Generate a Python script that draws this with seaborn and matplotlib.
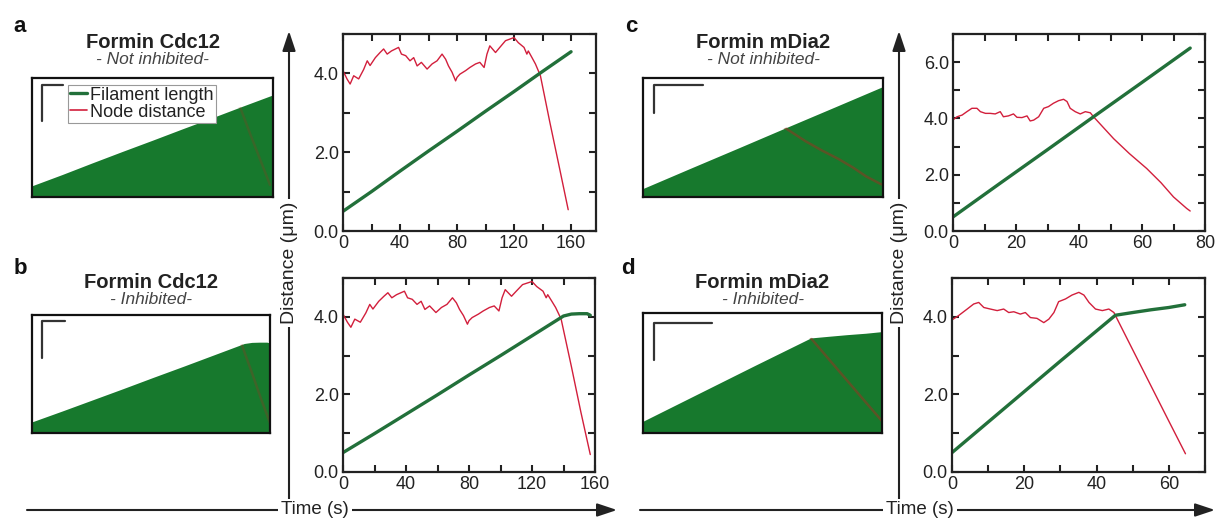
import numpy as np
import matplotlib

matplotlib.use('Agg')
import matplotlib.pyplot as plt
import seaborn as sns
from matplotlib.patches import FancyArrowPatch
from matplotlib.lines import Line2D

# ---- data ----
# a: Cdc12, not inhibited
fil_a_t = [0, 20, 40, 60, 80, 100, 120, 140, 160]
fil_a_d = [0.5, 1.0, 1.52, 2.03, 2.53, 3.04, 3.54, 4.05, 4.55]
node_a_t = [0, 2.8, 5, 7.5, 11, 14.5, 17, 19, 22.7, 26, 28.5, 31, 34, 39, 41, 44, 47, 49.6,
            52, 55, 59, 62.5, 66, 69.5, 72, 74, 76.5, 79, 80, 82, 86, 89, 93, 96, 99, 101,
            103, 107, 110, 114, 117, 120, 123, 127, 129, 130, 132.6, 135, 137, 138.5, 145,
            152, 158]
node_a_d = [4.07, 3.86, 3.73, 3.94, 3.86, 4.10, 4.32, 4.20, 4.40, 4.53, 4.62, 4.49, 4.57,
            4.66, 4.49, 4.45, 4.32, 4.40, 4.19, 4.28, 4.11, 4.24, 4.32, 4.49, 4.36, 4.19,
            4.03, 3.81, 3.90, 3.98, 4.07, 4.15, 4.24, 4.28, 4.15, 4.49, 4.70, 4.53, 4.66,
            4.83, 4.87, 4.91, 4.78, 4.66, 4.49, 4.57, 4.40, 4.24, 4.07, 3.94, 2.78, 1.58, 0.54]

# b: Cdc12, inhibited
fil_b_t = [0, 20, 40, 60, 80, 100, 120, 140, 145, 150, 155, 157]
fil_b_d = [0.5, 0.99, 1.49, 1.99, 2.5, 3.0, 3.51, 4.02, 4.07, 4.08, 4.08, 4.04]
node_b_t = node_a_t[:-3] + [145, 151, 157]
node_b_d = node_a_d[:-3] + [2.72, 1.55, 0.45]

# c: mDia2, not inhibited
fil_c_t = [0, 15, 30, 45, 60, 75.3]
fil_c_d = [0.5, 1.7, 2.89, 4.09, 5.28, 6.5]
node_c_t = [0, 1.3, 2.9, 4.4, 6, 7.6, 8.7, 10.3, 11.8, 13.4, 15, 16, 17.6, 19.2, 20.3, 21.9,
            23.5, 24.5, 25.6, 27.2, 28.8, 30.3, 31.9, 33.5, 35.1, 36.2, 37.2, 38.8, 40.4, 42,
            43.6, 44.6, 51, 56, 61.5, 66, 70, 74.2, 75.3]
node_c_d = [3.95, 4.06, 4.12, 4.24, 4.36, 4.36, 4.24, 4.18, 4.18, 4.16, 4.24, 4.06, 4.09,
            4.16, 4.04, 4.03, 4.09, 3.91, 3.94, 4.06, 4.36, 4.42, 4.54, 4.63, 4.68, 4.60,
            4.36, 4.24, 4.16, 4.24, 4.20, 4.06, 3.28, 2.75, 2.22, 1.72, 1.21, 0.80, 0.71]

# d: mDia2, inhibited
fil_d_t = [0, 15, 30, 45.2, 50, 55, 60, 64.4]
fil_d_d = [0.5, 1.68, 2.86, 4.04, 4.11, 4.18, 4.24, 4.31]
node_d_t = [0, 1.8, 4.2, 6, 7.4, 8.8, 10.6, 12.5, 14.3, 15.7, 17.1, 18.9, 20.3, 21.7, 23.5,
            25.4, 26.8, 28.2, 29.5, 31.4, 33.2, 35.1, 36.5, 37.9, 39.7, 41.6, 43.4, 44.8, 50,
            55, 60, 64.6]
node_d_d = [3.92, 4.03, 4.20, 4.33, 4.37, 4.24, 4.20, 4.16, 4.20, 4.11, 4.13, 4.07, 4.11,
            3.98, 3.96, 3.85, 3.94, 4.11, 4.39, 4.46, 4.56, 4.63, 4.56, 4.37, 4.20, 4.16,
            4.20, 4.11, 3.15, 2.23, 1.31, 0.47]

letters = ['a', 'b', 'c', 'd']
titles = ['Formin Cdc12', 'Formin Cdc12', 'Formin mDia2', 'Formin mDia2']
subtitles = ['- Not inhibited-', '- Inhibited-', '- Not inhibited-', '- Inhibited-']

# ---- style ----
W, H = 1218, 519
GREEN = '#22703a'
RED = '#d21f3c'
KYMO_GREEN = '#17792d'
KYMO_RED = '#8a3b22'

sns.set_style('ticks')
plt.rcParams['font.family'] = ['Liberation Sans', 'DejaVu Sans']

fig = plt.figure(figsize=(W / 100, H / 100), dpi=100)


def px_axes(x0, y0, x1, y1):
    return fig.add_axes([x0 / W, 1 - y1 / H, (x1 - x0) / W, (y1 - y0) / H])


def draw_graph(ax, ft, fd, nt, nd, xmax, ymax, xstep, labstep):
    sns.lineplot(x=nt, y=nd, ax=ax, color=RED, lw=1.0)
    sns.lineplot(x=ft, y=fd, ax=ax, color=GREEN, lw=2.4)
    ax.set_xlim(0, xmax)
    ax.set_ylim(0, ymax)
    xt = np.arange(0, xmax + 0.01, xstep)
    ax.set_xticks(xt)
    ax.set_xticklabels([str(int(v)) if v % labstep == 0 else '' for v in xt])
    yt = np.arange(0, ymax + 0.01, 1)
    ax.set_yticks(yt)
    ax.set_yticklabels([f'{v:.1f}' if v % 2 == 0 else '' for v in yt])
    ax.tick_params(direction='in', length=5, width=1.5, top=True, right=True,
                   labelsize=13, pad=3, colors='#222')
    for s in ax.spines.values():
        s.set_linewidth(1.6)
        s.set_color('#222')
        s.set_visible(True)
    ax.set_xlabel('')
    ax.set_ylabel('')


def draw_kymo(ax, ft, fd, nt, nd, kymax, bar, red_alpha):
    poly = ax.fill_between(ft, 0, fd, color=KYMO_GREEN, lw=0)
    sns.lineplot(x=nt, y=nd, ax=ax, color=KYMO_RED, lw=1.8, alpha=red_alpha)
    ln = ax.lines[-1]
    ln.set_clip_path(poly.get_paths()[0], ax.transData)
    ax.set_xlim(0, ft[-1])
    ax.set_ylim(0, kymax)
    ax.set_xticks([])
    ax.set_yticks([])
    for s in ax.spines.values():
        s.set_linewidth(1.6)
        s.set_color('#111')
        s.set_visible(True)
    bx, by0, by1, bx1 = bar
    ax.plot([bx, bx, bx1], [by0, by1, by1], transform=ax.transAxes, color='#333', lw=1.6)


kymo_boxes = [(32, 78, 273, 197), (32, 315, 270, 433), (643, 78, 883, 197), (643, 313, 882, 433)]
graph_boxes = [(343, 34, 596, 231), (343, 278, 595, 472), (953, 34, 1205, 231), (952, 278, 1205, 472)]
bars = [(0.041, 0.64, 0.94, 0.129), (0.042, 0.636, 0.95, 0.139),
        (0.046, 0.706, 0.94, 0.25), (0.046, 0.608, 0.917, 0.288)]
kymo_ymax = [5.3, 5.3, 7.0, 5.1]
red_alphas = [0.3, 0.35, 0.6, 0.6]
graph_lims = [(177.5, 5, 20, 40), (160, 5, 20, 40), (80, 7, 10, 20), (70, 5, 10, 20)]
title_y = [42, 282, 42, 282]
letter_pos = [(20, 26), (20, 268), (631, 26), (628, 268)]

series = [(fil_a_t, fil_a_d, node_a_t, node_a_d), (fil_b_t, fil_b_d, node_b_t, node_b_d),
          (fil_c_t, fil_c_d, node_c_t, node_c_d), (fil_d_t, fil_d_d, node_d_t, node_d_d)]

for i in range(4):
    ft, fd, nt, nd = series[i]
    kax = px_axes(*kymo_boxes[i])
    draw_kymo(kax, ft, fd, nt, nd, kymo_ymax[i], bars[i], red_alphas[i])
    gax = px_axes(*graph_boxes[i])
    draw_graph(gax, ft, fd, nt, nd, *graph_lims[i])

    cx = (kymo_boxes[i][0] + kymo_boxes[i][2]) / 2
    fig.text(cx / W, 1 - title_y[i] / H, titles[i], ha='center', va='center',
             fontsize=14.5, fontweight='bold', color='#222')
    fig.text(cx / W, 1 - (title_y[i] + 17) / H, subtitles[i], ha='center', va='center',
             fontsize=12.5, style='italic', color='#444')
    lx, ly = letter_pos[i]
    fig.text(lx / W, 1 - ly / H, letters[i], ha='center', va='center',
             fontsize=16, fontweight='bold', color='#111')

    if i == 0:
        handles = [Line2D([], [], color=GREEN, lw=2.4, label='Filament length'),
                   Line2D([], [], color=RED, lw=1.2, label='Node distance')]
        leg = kax.legend(handles=handles, loc='upper left', bbox_to_anchor=(0.15, 0.945),
                         borderaxespad=0, fontsize=13, frameon=True, fancybox=False,
                         handlelength=0.9, handletextpad=0.2, labelspacing=0.0,
                         borderpad=0.12)
        leg.get_frame().set_edgecolor('#999')
        leg.get_frame().set_linewidth(0.8)
        leg.get_frame().set_alpha(1)
        for t in leg.get_texts():
            t.set_color('#222')

# axis arrows shared by the two graph columns
for vx, hx0, hx1, tx in [(289, 27, 617, 315), (899, 640, 1215, 920)]:
    fig.add_artist(FancyArrowPatch((vx / W, 1 - 500 / H), (vx / W, 1 - 31 / H),
                                   transform=fig.transFigure, shrinkA=0, shrinkB=0,
                                   arrowstyle='-|>,head_length=0.6,head_width=0.2',
                                   mutation_scale=20, lw=1.5, color='#222'))
    fig.text(vx / W, 1 - 263 / H, 'Distance (μm)', rotation=90, ha='center', va='center',
             fontsize=14, color='#222', bbox=dict(fc='white', ec='none', pad=2))
    fig.add_artist(FancyArrowPatch((hx0 / W, 1 - 510 / H), (hx1 / W, 1 - 510 / H),
                                   transform=fig.transFigure, shrinkA=0, shrinkB=0,
                                   arrowstyle='-|>,head_length=0.6,head_width=0.2',
                                   mutation_scale=20, lw=1.5, color='#222'))
    fig.text(tx / W, 1 - 510 / H, 'Time (s)', ha='center', va='center',
             fontsize=13.5, color='#222', bbox=dict(fc='white', ec='none', pad=2))

fig.savefig('out.png', dpi=100)
